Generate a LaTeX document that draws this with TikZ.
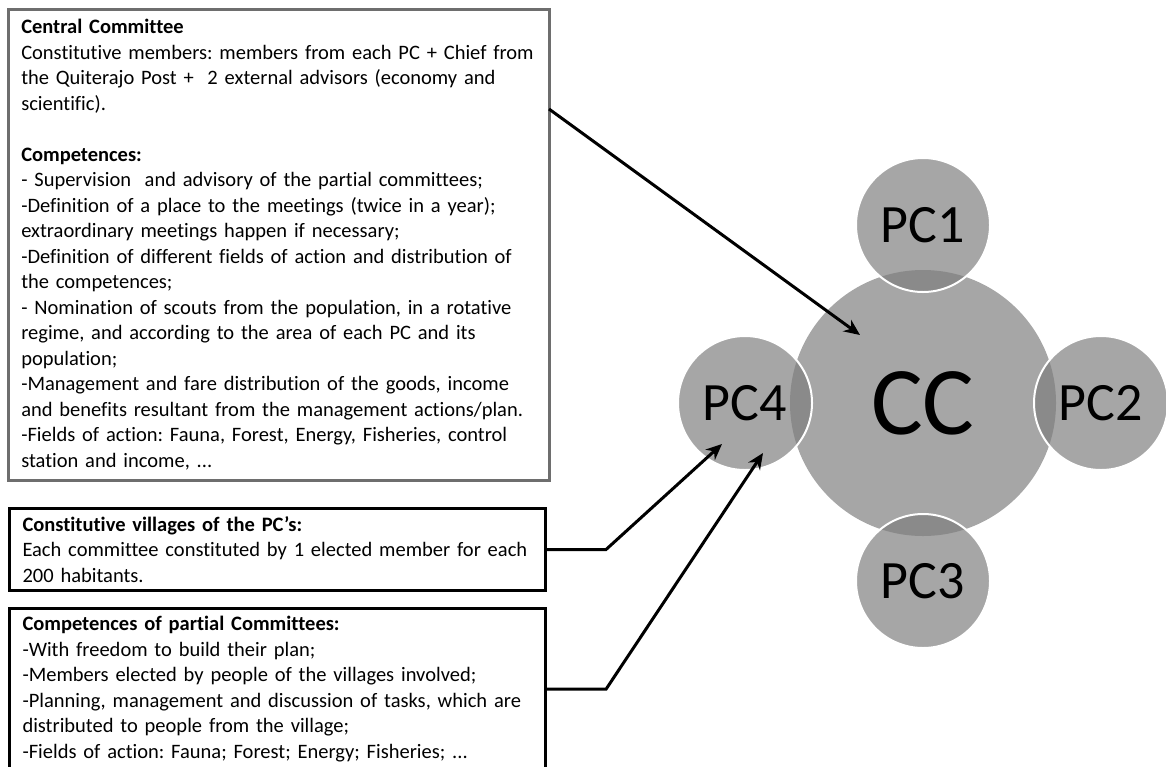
\documentclass[tikz,border=0pt]{standalone}
\usepackage{fontspec}
\setmainfont{Carlito}[Ligatures=NoCommon]
\usetikzlibrary{arrows.meta,positioning,calc}
\definecolor{pcgray}{HTML}{A6A6A6}
\definecolor{pcdark}{HTML}{8A8A8A}
\definecolor{boxgray}{HTML}{6E6E6E}

\begin{document}
\begin{tikzpicture}[x=1pt,y=-1pt,
    textbox/.style={draw=black,line width=3pt,anchor=north west,align=left,text width=510pt,
        inner xsep=13pt,inner ysep=8pt,font=\fontsize{20.5}{25.5}\selectfont\frenchspacing},
    pc/.style={circle,draw=white,line width=2pt,minimum size=134pt,inner sep=0pt,
        font=\fontsize{54}{60}\selectfont},
    arr/.style={-{Stealth[length=16pt,width=14pt]},line width=3pt}
]
\clip (0,0) rectangle (1166,766);

% grey discs, darker where a PC lies on the CC
\fill[pcgray] (923,403) circle[radius=133pt];
\foreach \x/\y in {923/225,1101/403,923/581,745/403}{
  \fill[pcgray] (\x,\y) circle[radius=67pt];
  \begin{scope}
    \clip (923,403) circle[radius=133pt];
    \fill[pcdark] (\x,\y) circle[radius=67pt];
  \end{scope}
}
\node[pc,draw=none,minimum size=266pt,font=\fontsize{97}{100}\selectfont] (cc) at (923,403) {CC};
\node[pc] (pc1) at (923,225) {PC1};
\node[pc] (pc2) at (1101,403) {PC2};
\node[pc] (pc3) at (923,581) {PC3};
\node[pc] (pc4) at (745,403) {PC4};

% text boxes
\node[textbox,draw=boxgray,line width=2.5pt,text width=515pt,inner ysep=9pt,minimum height=471pt] (central) at (7,8) {%
\textbf{Central Committee}\\
Constitutive members: members from each PC + Chief from\\
the Quiterajo Post +\ \ 2 external advisors (economy and\\
scientific).\\[25.5pt]
\textbf{Competences:}\\
- Supervision\ \ and advisory of the partial committees;\\
-Definition of a place to the meetings (twice in a year);\\
extraordinary meetings happen if necessary;\\
-Definition of different fields of action and distribution of\\
the competences;\\
- Nomination of scouts from the population, in a rotative\\
regime, and according to the area of each PC and its\\
population;\\
-Management and fare distribution of the goods, income\\
and benefits resultant from the management actions/plan.\\
-Fields of action: Fauna, Forest, Energy, Fisheries, control\\
station and income, ...};
\node[textbox] (villages) at (8,507) {%
\textbf{Constitutive villages of the PC’s:}\\
Each committee constituted by 1 elected member for each\\
200 habitants.};
\node[textbox] (partial) at (8,607) {%
\textbf{Competences of partial Committees:}\\
-With freedom to build their plan;\\
-Members elected by people of the villages involved;\\
\makebox[510pt][s]{-Planning, management and discussion of tasks, which are}\\
distributed to people from the village;\\
-Fields of action: Fauna; Forest; Energy; Fisheries; ...};

% arrows
\coordinate (cmtout) at (549,109);
\coordinate (cctip) at (860,335);
\coordinate (pctipA) at (722,444);
\coordinate (pctipB) at (763,453);
\draw[arr] (cmtout) -- (cctip);
\draw[arr] (villages.east) -- ++(59,0) -- (pctipA);
\draw[arr] (partial.east) -- ++(59,0) -- (pctipB);
\end{tikzpicture}
\end{document}
